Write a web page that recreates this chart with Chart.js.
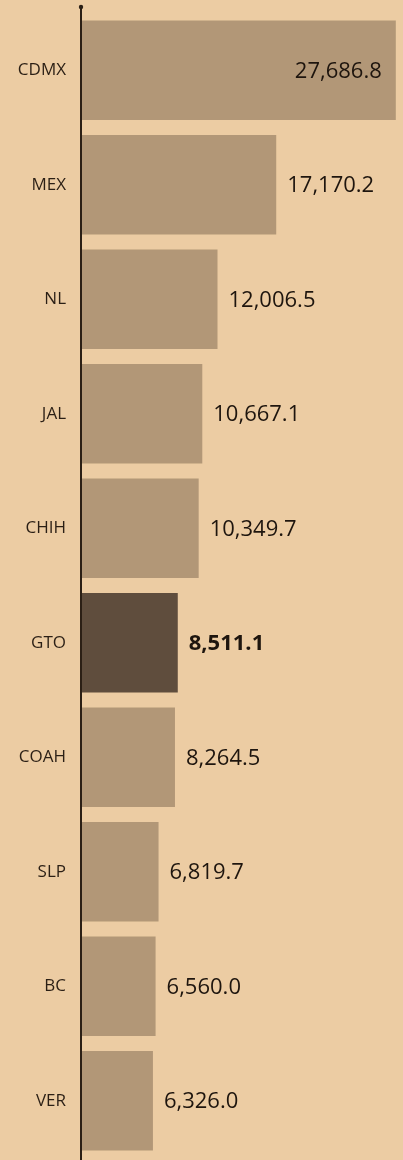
<!DOCTYPE html>
<html>
<head>
<meta charset="utf-8">
<script src="https://cdn.jsdelivr.net/npm/chart.js@4/dist/chart.umd.min.js"></script>
<style>
  html, body { margin: 0; padding: 0; background: #eccca3; }
  #wrap { width: 403px; height: 1160px; position: relative; }
</style>
</head>
<body>
<div id="wrap"><canvas id="estados"></canvas></div>
<script>
// Estados y valores
const estados = ['CDMX', 'MEX', 'NL', 'JAL', 'CHIH', 'GTO', 'COAH', 'SLP', 'BC', 'VER'];
const valores = [27686.8, 17170.2, 12006.5, 10667.1, 10349.7, 8511.1, 8264.5, 6819.7, 6560.0, 6326.0];
const destacado = 'GTO';

const colorBarra = '#b29777';
const colorDestacado = '#5f4d3d';
const colorTexto = '#2b1f15';

const fmt = v => v.toLocaleString('en-US', { minimumFractionDigits: 1, maximumFractionDigits: 1 });

// Etiquetas de valor y la linea del eje
const etiquetas = {
  id: 'etiquetas',
  afterDatasetsDraw(chart) {
    const ctx = chart.ctx;
    const meta = chart.getDatasetMeta(0);
    ctx.save();
    ctx.textBaseline = 'middle';
    meta.data.forEach((bar, i) => {
      const bold = estados[i] === destacado;
      ctx.font = (bold ? 'bold ' : '') + '22px "Open Sans"';
      ctx.fillStyle = '#1e150e';
      const txt = fmt(valores[i]);
      if (i === 0) {
        ctx.textAlign = 'right';
        ctx.fillText(txt, bar.x - 14, bar.y + 1);
      } else {
        ctx.textAlign = 'left';
        ctx.fillText(txt, bar.x + 11, bar.y + 1);
      }
    });
    // eje vertical
    const x0 = chart.scales.x.getPixelForValue(0);
    ctx.strokeStyle = '#2b1f15';
    ctx.lineWidth = 2;
    ctx.beginPath();
    ctx.moveTo(x0, 7);
    ctx.lineTo(x0, chart.height);
    ctx.stroke();
    ctx.fillStyle = '#2b1f15';
    ctx.beginPath();
    ctx.arc(x0, 7, 2.2, 0, Math.PI * 2);
    ctx.fill();
    ctx.restore();
  }
};

new Chart(document.getElementById('estados'), {
  type: 'bar',
  data: {
    labels: estados,
    datasets: [{
      data: valores,
      backgroundColor: estados.map(e => e === destacado ? colorDestacado : colorBarra),
      barPercentage: 0.87,
      categoryPercentage: 1
    }]
  },
  options: {
    indexAxis: 'y',
    responsive: true,
    maintainAspectRatio: false,
    animation: false,
    layout: { padding: { top: 13, bottom: 2, left: 0, right: 0 } },
    plugins: { legend: { display: false }, tooltip: { enabled: false } },
    scales: {
      x: { display: false, min: 0, max: 28320 },
      y: {
        grid: { display: false, drawTicks: false },
        border: { display: false },
        afterFit(scale) {
          scale.width = 81;
          scale.paddingTop = 0;
          scale.paddingBottom = 0;
        },
        ticks: {
          padding: 15,
          color: colorTexto,
          font: { family: 'Open Sans', size: 17 }
        }
      }
    }
  },
  plugins: [etiquetas]
});
</script>
</body>
</html>
